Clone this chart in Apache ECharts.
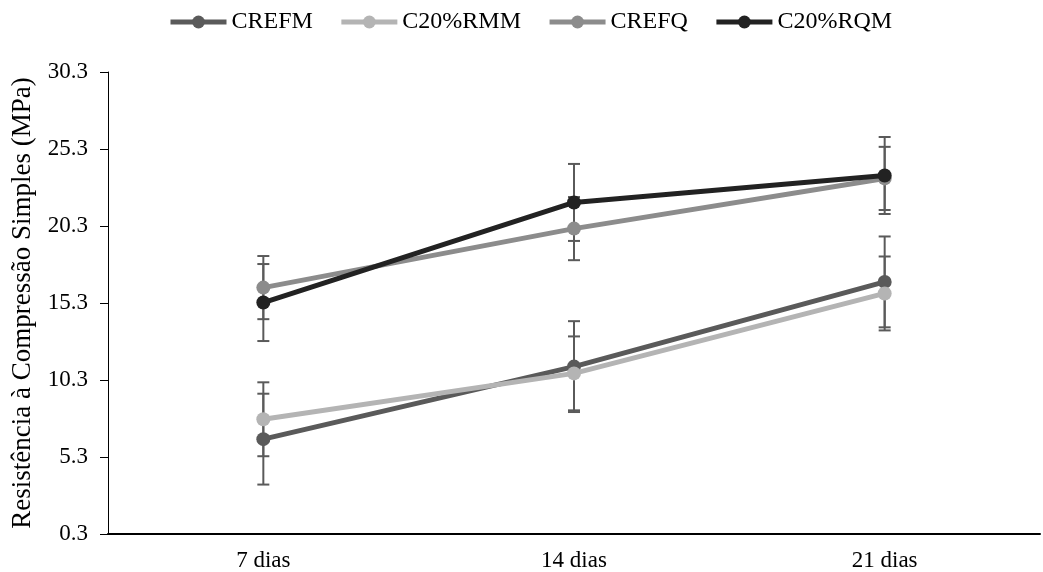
<!DOCTYPE html>
<html>
<head>
<meta charset="utf-8">
<script src="https://cdn.jsdelivr.net/npm/echarts@6/dist/echarts.min.js"></script>
<style>html,body{margin:0;padding:0;background:#fff}#c{width:1043px;height:572px}</style>
</head>
<body>
<div id="c"></div>
<script>
const categories = ['7 dias', '14 dias', '21 dias'];
const seriesNames = ['CREFM', 'C20%RMM', 'CREFQ', 'C20%RQM'];
const valCREFM = [6.46, 11.17, 16.67];
const valRMM = [7.75, 10.73, 15.92];
const valCREFQ = [16.3, 20.13, 23.39];
const valRQM = [15.33, 21.83, 23.58];
const errCREFM = [2.95, 2.95, 2.95];
const errRMM = [2.4, 2.4, 2.4];
const errCREFQ = [2.05, 2.05, 2.05];
const errRQM = [2.5, 2.5, 2.5];
const yTicks = [0.3, 5.3, 10.3, 15.3, 20.3, 25.3, 30.3];

const values = [valCREFM, valRMM, valCREFQ, valRQM];
const errors = [errCREFM, errRMM, errCREFQ, errRQM];
const colors = ['#5a5a5a', '#b4b4b4', '#8c8c8c', '#222222'];
const font = 'Liberation Serif, Times New Roman, serif';

const errData = [];
values.forEach((vals, s) => vals.forEach((v, i) => errData.push([i, v - errors[s][i], v + errors[s][i]])));

const lineSeries = seriesNames.map((n, s) => ({
  name: n, type: 'line', data: values[s],
  symbol: 'circle', symbolSize: 14,
  lineStyle: { width: 5, color: colors[s] },
  itemStyle: { color: colors[s] },
  z: 3 + s
}));

const errSeries = {
  type: 'custom', z: 2, silent: true,
  data: errData,
  renderItem: function (params, api) {
    const x = api.value(0);
    const lo = api.coord([x, api.value(1)]);
    const hi = api.coord([x, api.value(2)]);
    const hw = 6;
    const st = { stroke: '#5a5a5a', lineWidth: 2 };
    return { type: 'group', children: [
      { type: 'line', shape: { x1: lo[0], y1: lo[1], x2: hi[0], y2: hi[1] }, style: st },
      { type: 'line', shape: { x1: lo[0] - hw, y1: lo[1], x2: lo[0] + hw, y2: lo[1] }, style: st },
      { type: 'line', shape: { x1: hi[0] - hw, y1: hi[1], x2: hi[0] + hw, y2: hi[1] }, style: st }
    ]};
  }
};

const chart = echarts.init(document.getElementById('c'));
chart.setOption({
  animation: false,
  backgroundColor: '#fff',
  legend: {
    data: seriesNames, top: 10, left: 168, padding: 0, itemWidth: 56, itemHeight: 16, itemGap: 26,
    lineStyle: { width: 5 },
    textStyle: { fontFamily: font, fontSize: 24, color: '#000' }
  },
  grid: { left: 108, right: 3, top: 72, bottom: 37 },
  xAxis: {
    type: 'category', data: categories, boundaryGap: true,
    axisLine: { lineStyle: { color: '#000', width: 2 } },
    axisTick: { show: false },
    axisLabel: { fontFamily: font, fontSize: 23, color: '#000', margin: 15 }
  },
  yAxis: {
    type: 'value', min: yTicks[0], max: yTicks[yTicks.length - 1], interval: 5,
    name: 'Resistência à Compressão Simples (MPa)', nameLocation: 'middle', nameGap: 72,
    nameTextStyle: { fontFamily: font, fontSize: 27, color: '#000' },
    axisLine: { show: true, lineStyle: { color: '#000', width: 1 } },
    axisTick: { show: true, length: 8, lineStyle: { color: '#000' } },
    splitLine: { show: false },
    axisLabel: { fontFamily: font, fontSize: 23, color: '#000', margin: 20, formatter: v => v.toFixed(1) }
  },
  series: [errSeries].concat(lineSeries)
});
</script>
</body>
</html>
